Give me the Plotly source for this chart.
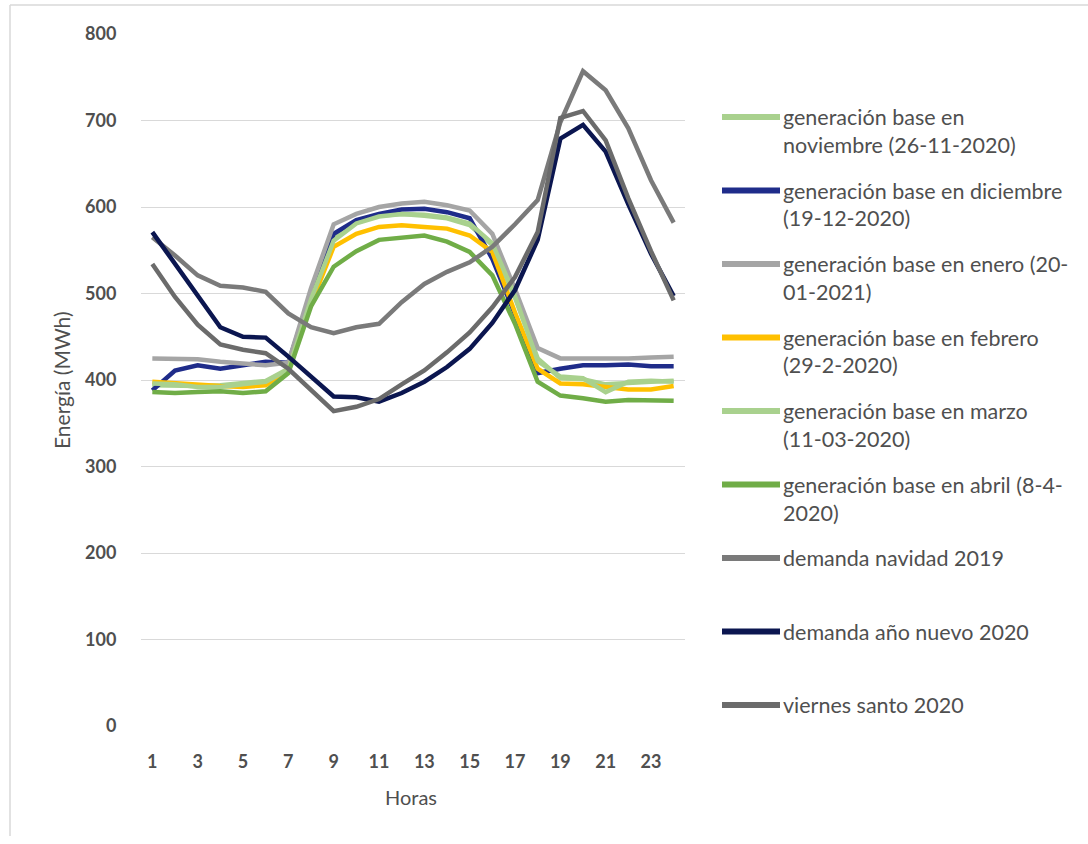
import plotly.graph_objects as go

# Hourly energy profiles (MWh)
horas = list(range(1, 25))

series_names = [
    "generación base en noviembre (26-11-2020)",
    "generación base en diciembre (19-12-2020)",
    "generación base en enero (20-01-2021)",
    "generación base en febrero (29-2-2020)",
    "generación base en marzo (11-03-2020)",
    "generación base en abril (8-4-2020)",
    "demanda navidad 2019",
    "demanda año nuevo 2020",
    "viernes santo 2020",
]

legend_lines = [
    ["generación base en", "noviembre (26-11-2020)"],
    ["generación base en diciembre", "(19-12-2020)"],
    ["generación base en enero (20-", "01-2021)"],
    ["generación base en febrero", "(29-2-2020)"],
    ["generación base en marzo", "(11-03-2020)"],
    ["generación base en abril (8-4-", "2020)"],
    ["demanda navidad 2019"],
    ["demanda año nuevo 2020"],
    ["viernes santo 2020"],
]

noviembre = [394, 393, 393, 394, 396, 399, 413, 495, 563, 582, 590, 592, 590, 587, 579, 556, 495, 425, 402, 401, 395, 397, 398, 399]
diciembre = [388, 411, 417, 413, 417, 421, 420, 500, 569, 585, 592, 597, 598, 594, 587, 540, 476, 408, 413, 417, 417, 418, 416, 416]
enero = [425, 425, 424, 421, 419, 417, 420, 506, 580, 592, 600, 604, 606, 602, 596, 569, 505, 437, 425, 425, 424, 425, 426, 427]
febrero = [398, 396, 394, 393, 392, 394, 412, 488, 554, 569, 577, 579, 577, 575, 567, 548, 478, 413, 396, 395, 392, 389, 389, 393]
marzo = [396, 395, 392, 392, 395, 398, 412, 493, 561, 581, 589, 592, 591, 588, 581, 558, 497, 422, 404, 402, 386, 398, 399, 398]
abril = [386, 385, 386, 387, 385, 387, 408, 485, 531, 549, 562, 565, 567, 560, 548, 521, 465, 398, 382, 379, 375, 377, 377, 376]
navidad_2019 = [565, 544, 521, 509, 507, 502, 477, 461, 454, 461, 465, 490, 511, 525, 536, 554, 580, 608, 698, 757, 735, 691, 631, 582]
anio_nuevo_2020 = [571, 534, 499, 461, 450, 449, 427, 404, 381, 380, 375, 385, 398, 415, 436, 466, 504, 562, 679, 695, 664, 603, 546, 497]
viernes_santo_2020 = [534, 496, 464, 441, 435, 431, 413, 388, 364, 369, 378, 395, 411, 432, 455, 484, 519, 571, 703, 711, 677, 610, 549, 492]

all_values = [noviembre, diciembre, enero, febrero, marzo, abril,
              navidad_2019, anio_nuevo_2020, viernes_santo_2020]

colors = ["#A9D18E", "#1F2C8A", "#A5A5A5", "#FFC000", "#A9D18E",
          "#70AD47", "#7A7A7A", "#0B1650", "#6B6B6B"]

x_ticks = list(range(1, 24, 2))
y_ticks = list(range(0, 801, 100))

W, H = 1088, 844
L, R, T, B = 141, 403, 34, 118
PW, PH = W - L - R, H - T - B

FONT = "Lato"
TXT = "#4F4F4F"


def px(xp):
    return (xp - L) / PW


def py(yp):
    return (H - B - yp) / PH


fig = go.Figure()
for name, vals, col in zip(series_names, all_values, colors):
    fig.add_trace(go.Scatter(
        x=horas, y=vals, name=name, mode="lines",
        line=dict(color=col, width=4.5),
        showlegend=False, hoverinfo="x+y+name",
    ))

shapes = []
annotations = []

# legend drawn at the right of the plot
for i, (lines, col) in enumerate(zip(legend_lines, colors)):
    yc = 117 + 73.5 * i
    shapes.append(dict(type="line", xref="paper", yref="paper",
                       x0=px(722), x1=px(780), y0=py(yc), y1=py(yc),
                       line=dict(color=col, width=6)))
    for j, t in enumerate(lines):
        annotations.append(dict(
            text=t, xref="paper", yref="paper",
            x=px(781), y=py(yc + 28 * j), xanchor="left", yanchor="middle",
            showarrow=False, font=dict(family=FONT, size=21.5, color=TXT)))

# axis titles
annotations.append(dict(text="Horas", xref="paper", yref="paper",
                        x=px(411), y=py(797), xanchor="center", yanchor="middle",
                        showarrow=False, font=dict(family=FONT, size=20, color=TXT)))
annotations.append(dict(text="Energía (MWh)", xref="paper", yref="paper",
                        x=px(61), y=py(380), xanchor="center", yanchor="middle",
                        textangle=-90, showarrow=False,
                        font=dict(family=FONT, size=21, color=TXT)))

# outer frame
shapes.append(dict(type="line", xref="paper", yref="paper",
                   x0=px(10), x1=px(10), y0=py(5), y1=py(836),
                   line=dict(color="#D9D9D9", width=1.5)))
shapes.append(dict(type="line", xref="paper", yref="paper",
                   x0=px(10), x1=px(1090), y0=py(5), y1=py(5),
                   line=dict(color="#D9D9D9", width=1.5)))

fig.update_layout(
    width=W, height=H,
    margin=dict(l=L, r=R, t=T, b=B, pad=0),
    paper_bgcolor="white", plot_bgcolor="white",
    font=dict(family=FONT, color=TXT),
    shapes=shapes, annotations=annotations,
    showlegend=False,
)
fig.update_xaxes(
    range=[0.5, 24.5], tickvals=x_ticks, ticktext=[str(v) for v in x_ticks],
    showgrid=False, zeroline=False, showline=False,
    ticks="outside", ticklen=19, tickcolor="rgba(0,0,0,0)",
    tickfont=dict(family=FONT, size=18, color=TXT, weight="bold"),
)
fig.update_yaxes(
    range=[0, 800], tickvals=y_ticks, ticktext=[str(v) for v in y_ticks],
    showgrid=True, gridcolor="#D9D9D9", gridwidth=1.2,
    zeroline=False, showline=False,
    ticks="outside", ticklen=20, tickcolor="rgba(0,0,0,0)",
    tickfont=dict(family=FONT, size=18, color=TXT, weight="bold"),
)

fig.write_html("out.html")
